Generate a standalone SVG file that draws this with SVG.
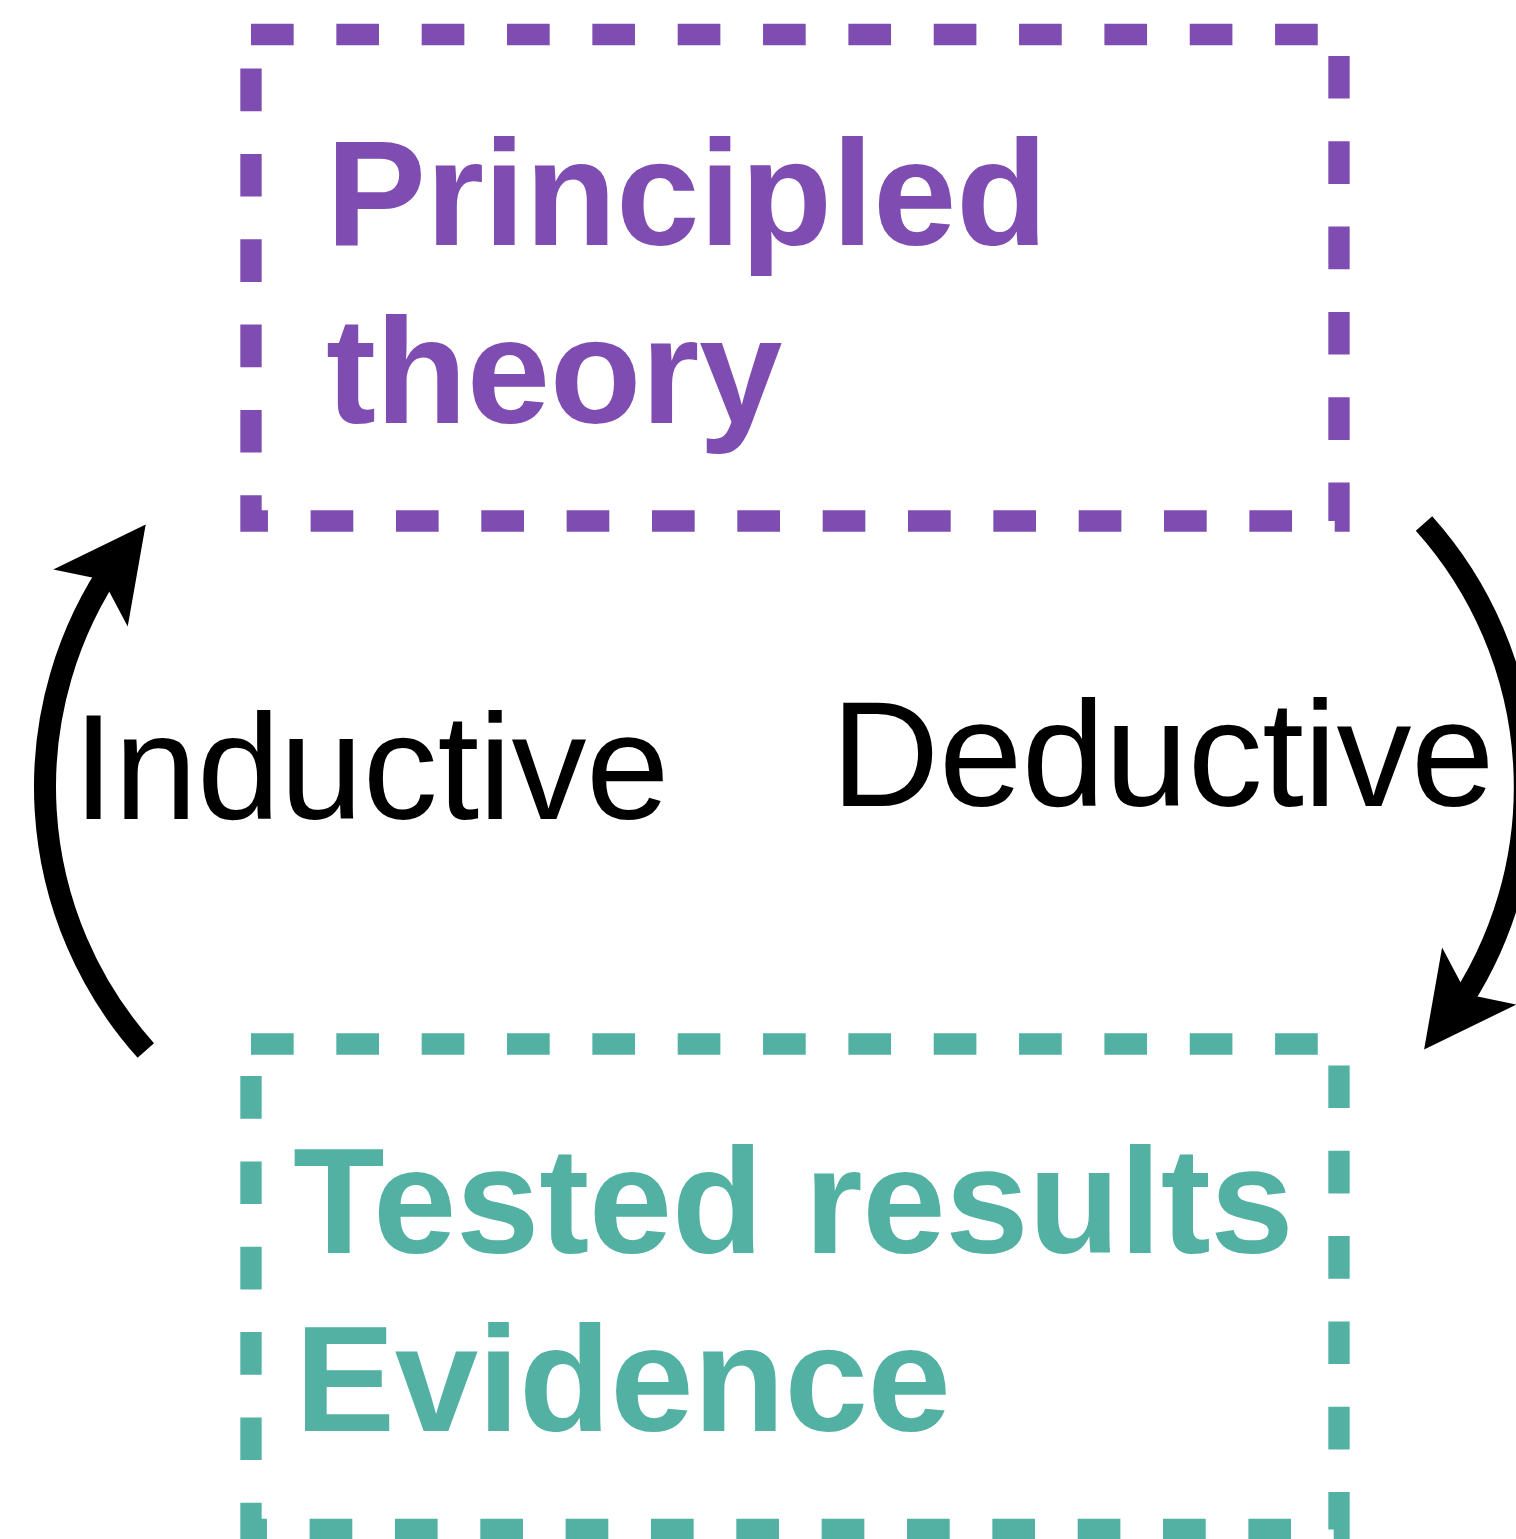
<svg xmlns="http://www.w3.org/2000/svg" width="1516" height="1539" viewBox="0 0 1516 1539">
  <style>
    .box { fill: none; stroke-width: 21.33; stroke-dasharray: 42.67 42.67; stroke-linejoin: miter; stroke-linecap: butt; }
    .theory { stroke: #7F4CB1; }
    .evidence { stroke: #52B1A3; }
    .title { font-family: "Liberation Sans", Arial, Helvetica, sans-serif; font-weight: bold; font-size: 150px; letter-spacing: -0.4px; }
    .label { font-family: "Liberation Sans", Arial, Helvetica, sans-serif; font-size: 150px; fill: #000; letter-spacing: -0.45px; }
    .shaft { fill: none; stroke: #000; stroke-width: 22; stroke-linecap: butt; }
    .head { fill: #000; stroke: none; }
  </style>
  <rect width="1516" height="1539" fill="#fff"/>

  <!-- Principled theory -->
  <g id="principled-theory">
    <rect class="box theory" x="251" y="34.5" width="1088" height="486.5"/>
    <text class="title" fill="#7F4CB1" x="326" y="244.5">Principled</text>
    <text class="title" fill="#7F4CB1" x="326" y="422.5">theory</text>
  </g>

  <!-- Tested results / Evidence -->
  <g id="tested-results">
    <rect class="box evidence" x="251" y="1044" width="1088" height="485.5"/>
    <text class="title" fill="#52B1A3" x="293" y="1252.5">Tested results</text>
    <text class="title" fill="#52B1A3" x="295" y="1431">Evidence</text>
  </g>

  <!-- Connectors: two opposing arcs -->
  <g id="connectors">
    <g id="inductive">
      <path class="shaft" d="M145.8,1050.5 A395,395 0 0 1 116.4,560.4"/>
      <polygon class="head" points="145.7,524.5 53.3,569.5 103,579.8 127.7,626.4"/>
      <text class="label" x="72.7" y="819.3">Inductive</text>
    </g>
    <g id="deductive">
      <path class="shaft" d="M1424,523.5 A395,395 0 0 1 1453.4,1013.6"/>
      <polygon class="head" points="1424.1,1049.5 1516.5,1004.5 1466.8,994.2 1442.1,947.6"/>
      <text class="label" x="831" y="806">Deductive</text>
    </g>
  </g>
</svg>
